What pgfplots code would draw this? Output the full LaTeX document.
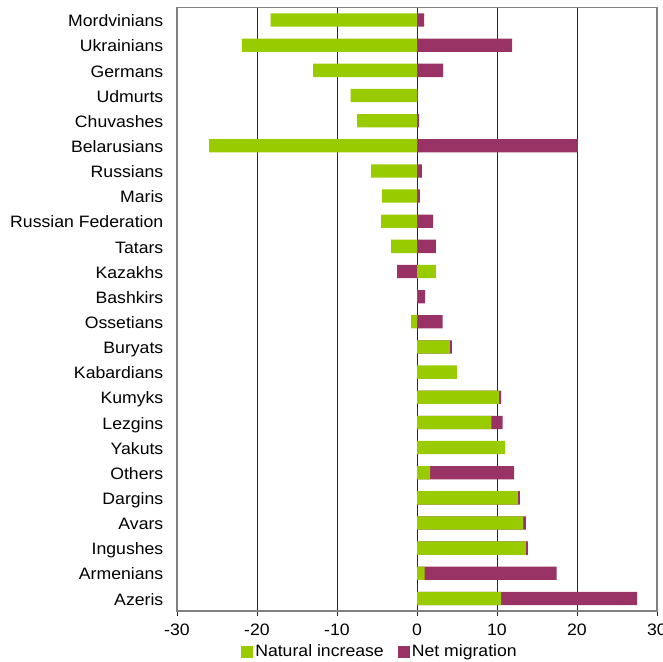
\documentclass[border=0pt]{standalone}
\usepackage{pgfplots}
\usepackage{pgfplotstable}
\pgfplotsset{compat=1.18}
\usepackage{fontspec}
\setmainfont{Liberation Sans}[FakeStretch=1.07]
\definecolor{natgreen}{RGB}{153,204,0}
\definecolor{migpurple}{RGB}{153,51,102}
\definecolor{framegray}{RGB}{128,128,128}
\definecolor{gridcol}{RGB}{40,40,40}

\pgfplotstableread{
idx nat mig
0 -18.3 0.9
1 -21.9 11.9
2 -13.0 3.25
3 -8.3 0.1
4 -7.5 0.25
5 -26.0 20.1
6 -5.75 0.6
7 -4.4 0.35
8 -4.5 2.0
9 -3.25 2.35
10 2.35 -2.5
11 0.0 1.0
12 -0.75 3.2
13 4.1 0.25
14 5.0 0.0
15 10.25 0.25
16 9.3 1.4
17 11.0 0.0
18 1.65 10.5
19 12.6 0.25
20 13.25 0.35
21 13.6 0.25
22 0.95 16.5
23 10.5 17.0
}\data

\begin{document}
\fontsize{16.5bp}{19bp}\selectfont
\begin{tikzpicture}
\useasboundingbox (0,0) rectangle (663bp,662bp);
\begin{axis}[
  at={(177bp,51bp)}, anchor=south west,
  scale only axis,
  width=480bp, height=603.5bp,
  xmin=-30, xmax=30,
  ymin=-0.5, ymax=23.5,
  y dir=reverse,
  xtick={-30,-20,-10,0,10,20,30},
  ytick={0,...,23},
  yticklabels={Mordvinians,Ukrainians,Germans,Udmurts,Chuvashes,Belarusians,Russians,Maris,Russian Federation,Tatars,Kazakhs,Bashkirs,Ossetians,Buryats,Kabardians,Kumyks,Lezgins,Yakuts,Others,Dargins,Avars,Ingushes,Armenians,Azeris},
  ytick style={draw=none},
  xtick align=outside,
  xtick pos=bottom,
  major tick length=5bp,
  x tick style={draw=gridcol, line width=1bp},
  xmajorgrids,
  major grid style={draw=gridcol, line width=1bp},
  axis line style={draw=framegray, line width=1.2bp},
  tick label style={font=\fontsize{16.5bp}{19bp}\selectfont},
  /pgf/number format/assume math mode=true,
  xticklabel style={yshift=-2bp},
  yticklabel style={anchor=east, text height=11.8bp, text depth=0bp, xshift=-8bp, yshift=-0.8bp},
  legend style={at={(axis description cs:0.423,-0.068)}, anchor=center, draw=none, fill=none,
    legend columns=2, font=\fontsize{16.5bp}{19bp}\selectfont,
    /tikz/every even column/.append style={column sep=12bp}},
  legend image code/.code={\fill[#1] (0bp,-6bp) rectangle (12bp,6bp);},
]
\addplot[xbar, bar shift=0pt, bar width=13.3bp, fill=migpurple, draw=none, forget plot]
  table[y=idx, x expr={ifthenelse(\thisrow{nat}*\thisrow{mig}>0, \thisrow{nat}+\thisrow{mig}, \thisrow{mig})}] {\data};
\addplot[xbar, bar shift=0pt, bar width=13.3bp, fill=natgreen, draw=none]
  table[y=idx, x=nat] {\data};
\addlegendentry{Natural increase}
\addlegendimage{fill=migpurple, draw=none}
\addlegendentry{Net migration}
\end{axis}
\end{tikzpicture}
\end{document}
